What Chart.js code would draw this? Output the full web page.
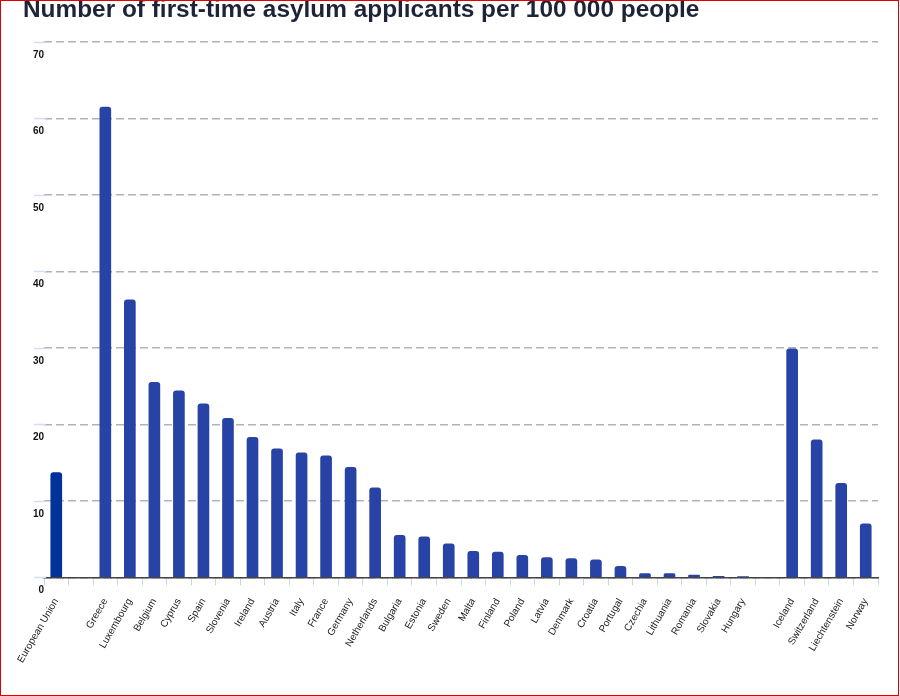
<!DOCTYPE html>
<html>
<head>
<meta charset="utf-8">
<script src="https://cdn.jsdelivr.net/npm/chart.js@4/dist/chart.umd.min.js"></script>
<style>
  html, body { margin: 0; padding: 0; background: #fff; }
  #wrap { position: relative; width: 900px; height: 696px; overflow: hidden; }
  #title { position: absolute; left: 23px; top: -5px; font: bold 24.4px "Liberation Sans", Arial, sans-serif; color: #1c2537; white-space: nowrap; }
  #frame { position: absolute; left: 0; top: 0; width: 897px; height: 694px; border: 1px solid #e00000; pointer-events: none; }
  canvas { position: absolute; left: 0; top: 0; }
</style>
</head>
<body>
<div id="wrap">
  <canvas id="c" width="900" height="696"></canvas>
  <div id="title">Number of first-time asylum applicants per 100 000 people</div>
  <div id="frame"></div>
</div>
<script>
const categories = ["European Union", "", "Greece", "Luxembourg", "Belgium", "Cyprus", "Spain", "Slovenia", "Ireland", "Austria", "Italy", "France", "Germany", "Netherlands", "Bulgaria", "Estonia", "Sweden", "Malta", "Finland", "Poland", "Latvia", "Denmark", "Croatia", "Portugal", "Czechia", "Lithuania", "Romania", "Slovakia", "Hungary", "", "Iceland", "Switzerland", "Liechtenstein", "Norway"];
const values = [13.7, null, 61.5, 36.3, 25.5, 24.4, 22.7, 20.8, 18.3, 16.8, 16.3, 15.9, 14.4, 11.7, 5.5, 5.3, 4.4, 3.4, 3.3, 2.9, 2.6, 2.45, 2.3, 1.45, 0.5, 0.5, 0.3, 0.15, 0.03, null, 29.9, 18.0, 12.3, 7.0];
const yTicks = [0, 10, 20, 30, 40, 50, 60, 70];

const barColors = categories.map((c) => c === "European Union" ? "#003399" : "#2743a5");

// short light tick marks to the left of the plot at each y tick
const yTickMarks = {
  id: "yTickMarks",
  afterDraw(chart) {
    const y = chart.scales.y, ctx = chart.ctx, left = chart.chartArea.left;
    ctx.save();
    ctx.strokeStyle = "#d3ddf0";
    ctx.lineWidth = 1.5;
    yTicks.forEach((v) => {
      const py = Math.round(y.getPixelForValue(v)) + 0.5;
      ctx.beginPath();
      ctx.moveTo(left - 10, py);
      ctx.lineTo(left + 2, py);
      ctx.stroke();
    });
    ctx.restore();
  }
};

new Chart(document.getElementById("c"), {
  type: "bar",
  data: {
    labels: categories,
    datasets: [{
      data: values,
      backgroundColor: barColors,
      borderWidth: 0,
      barThickness: 11,
      borderRadius: { topLeft: 3, topRight: 3, bottomLeft: 0, bottomRight: 0 },
      borderSkipped: "bottom"
    }]
  },
  plugins: [yTickMarks],
  options: {
    responsive: false,
    animation: false,
    devicePixelRatio: 1,
    layout: { padding: { left: 0, right: 22, top: 42, bottom: 20 } },
    plugins: { legend: { display: false }, title: { display: false }, tooltip: { enabled: false } },
    scales: {
      x: {
        offset: true,
        grid: { display: true, drawOnChartArea: false, drawTicks: true, tickLength: 8, tickColor: "#c9d5ee", tickWidth: 1, offset: true },
        border: { display: true, color: "#444444", width: 1.5, z: 1 },
        ticks: {
          autoSkip: false, minRotation: 60, maxRotation: 60, padding: 11,
          color: "#222", font: { family: "Liberation Sans, Arial, sans-serif", size: 10 }
        }
      },
      y: {
        min: 0, max: 70,
        ticks: {
          stepSize: 10, padding: 0, labelOffset: 13,
          color: "#111", font: { family: "Liberation Sans, Arial, sans-serif", size: 10, weight: "bold" }
        },
        afterFit: (axis) => { axis.width = 44; },
        grid: { color: "#b3b3b3", lineWidth: 1.5, drawTicks: false },
        border: { display: false, dash: [8, 4] }
      }
    }
  }
});
</script>
</body>
</html>
